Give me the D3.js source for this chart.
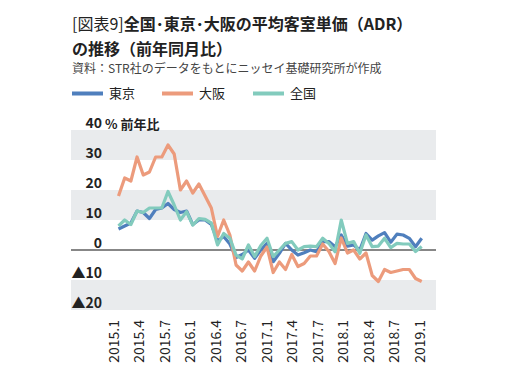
<!DOCTYPE html>
<html>
<head>
<meta charset="utf-8">
<script src="https://cdn.jsdelivr.net/npm/d3@7"></script>
<style>
  body { margin: 0; background: #fff; }
  svg { display: block; font-family: "Noto Sans CJK JP", "Noto Sans", sans-serif; }
</style>
</head>
<body>
<svg id="chart" width="511" height="377"></svg>
<script>
// Series, monthly from 2015.1 (% yoy)
const tokyo = [7, 8, 9, 13, 12.5, 10.5, 13.5, 14, 15.5, 13.5, 12.5, 13, 8.5, 10, 10, 8.5,
  3, 4.5, 2, -2.5, -1.5, 0, -2.8, 0, 2.2, -3.9, -1.1, 2.2, 0, -1.7, -0.9, 0, -0.6, 2.8,
  2.8, 1.1, 5, 1.3, 1.7, 0, 5.5, 3.3, 4.7, 5.8, 2.6, 5.3, 5, 3.9, 1.1, 3.9];
const osaka = [18, 24, 23, 31, 25, 26, 31, 31, 35, 32, 20, 23, 19, 22, 18, 14,
  4.5, 10, 5, -5, -7, -4, -7, -2, 1, -7.5, -4, -6.5, -1.5, -5.5, -4.5, -2, -2, 2,
  -0.5, -4.5, 4, -1, 0, -3, -1, -8.5, -10.5, -6.5, -7.5, -7, -6.5, -6.5, -9.5, -10.5];
const zenkoku = [8, 10, 8.5, 13, 12.5, 14, 14, 14, 19.5, 15, 10, 12.8, 8.3, 10.5, 10.2, 9,
  1.7, 5.5, 3.9, -1.7, -3, 1.7, -2.2, 1.5, 3.9, -2.2, 0, 2.2, 2.8, 0, 1.1, 1.3, 1.1, 3.9,
  2.2, -0.6, 10, 2.2, 2.8, -1.1, 5, 1.1, 1.3, 3.9, 0.8, 2.2, 2, 2, -0.5, 1.2];

const seriesNames = ['東京', '大阪', '全国'];
const seriesColors = ['#4f7fbd', '#ec9b7c', '#82cbbd'];

const xLabels = ['2015.1', '2015.4', '2015.7', '2016.1', '2016.4', '2016.7', '2017.1',
  '2017.4', '2017.7', '2018.1', '2018.4', '2018.7', '2019.1'];
const yTicks = [-20, -10, 0, 10, 20, 30, 40];
const bandRanges = [[30, 40], [10, 20], [-20, -10]];

const svg = d3.select('#chart');

const plot = { left: 71, right: 436, top: 130, bottom: 310 };

const x = d3.scalePoint()
  .domain(d3.range(tokyo.length))
  .range([118.5, 421.7]);

const xLab = d3.scalePoint()
  .domain(xLabels)
  .range([114, 420]);

const y = d3.scaleLinear()
  .domain([-20, 40])
  .range([plot.bottom, plot.top]);

// Title block
const title = svg.append('text')
  .attr('x', 72).attr('y', 30)
  .attr('font-size', 16)
  .attr('fill', '#222');
title.append('tspan').attr('font-weight', 400).text('[図表9]');
title.append('tspan').attr('font-weight', 700).text('全国･東京･大阪の平均客室単価（ADR）');

svg.append('text')
  .attr('x', 72).attr('y', 55)
  .attr('font-size', 16)
  .attr('font-weight', 700)
  .attr('fill', '#222')
  .text('の推移（前年同月比）');

svg.append('text')
  .attr('x', 72).attr('y', 73)
  .attr('font-size', 12)
  .attr('fill', '#444')
  .text('資料：STR社のデータをもとにニッセイ基礎研究所が作成');

// Legend
const legend = svg.append('g').attr('class', 'legend');
const legendX = [72, 162, 253];
seriesNames.forEach((name, i) => {
  legend.append('rect')
    .attr('x', legendX[i]).attr('y', 91.5)
    .attr('width', 31).attr('height', 4)
    .attr('fill', seriesColors[i]);
  legend.append('text')
    .attr('x', legendX[i] + 37).attr('y', 98)
    .attr('font-size', 13)
    .attr('fill', '#222')
    .text(name);
});

// Gray bands
svg.append('g').attr('class', 'bands')
  .selectAll('rect')
  .data(bandRanges)
  .join('rect')
  .attr('x', plot.left)
  .attr('width', plot.right - plot.left)
  .attr('y', d => y(d[1]))
  .attr('height', d => y(d[0]) - y(d[1]))
  .attr('fill', '#e9ebed');

// Zero line
svg.append('line')
  .attr('x1', plot.left).attr('x2', plot.right)
  .attr('y1', y(0)).attr('y2', y(0))
  .attr('stroke', '#111')
  .attr('stroke-width', 1.2);

// Y axis labels
const yAxis = d3.axisLeft(y)
  .tickValues(yTicks)
  .tickSize(0)
  .tickPadding(0)
  .tickFormat(d => d < 0 ? `▲${-d}` : `${d}`);

const yAxisG = svg.append('g')
  .attr('class', 'y-axis')
  .attr('transform', 'translate(102,0)')
  .call(yAxis);
yAxisG.select('.domain').remove();
yAxisG.selectAll('text')
  .attr('font-family', '"Noto Sans CJK JP", sans-serif')
  .attr('font-size', 14)
  .attr('font-weight', 700)
  .attr('fill', '#222')
  .attr('dy', '-0.2em');

svg.append('text')
  .attr('x', 105).attr('y', y(40) - 1)
  .attr('font-size', 13)
  .attr('font-weight', 700)
  .attr('fill', '#222')
  .text('% 前年比');

// X labels, rotated
svg.append('g').attr('class', 'x-labels')
  .selectAll('text')
  .data(xLabels)
  .join('text')
  .attr('transform', d => `translate(${xLab(d)},320) rotate(-90)`)
  .attr('text-anchor', 'end')
  .attr('dy', '0.35em')
  .attr('font-size', 14)
  .attr('fill', '#222')
  .text(d => d);

// Lines
const line = d3.line()
  .x((d, i) => x(i))
  .y(d => y(d));

svg.append('g').attr('class', 'lines')
  .selectAll('path')
  .data([tokyo, osaka, zenkoku])
  .join('path')
  .attr('d', line)
  .attr('fill', 'none')
  .attr('stroke', (d, i) => seriesColors[i])
  .attr('stroke-width', 3.2)
  .attr('stroke-linejoin', 'round');
</script>
</body>
</html>
